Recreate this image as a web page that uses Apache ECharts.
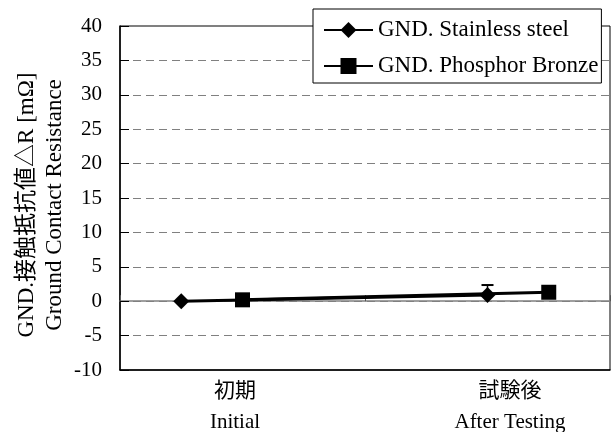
<!DOCTYPE html>
<html><head><meta charset="utf-8">
<script src="https://cdn.jsdelivr.net/npm/echarts@6/dist/echarts.min.js"></script>
<style>html,body{margin:0;padding:0;background:#fff}#c{width:614px;height:432px}</style>
</head><body><div id="c"></div>
<script>
const categories = ['初期\nInitial', '試験後\nAfter Testing'];
const yTicks = {min: -10, max: 40, interval: 5};
const stainlessX = [0.5, 3.0];
const stainlessY = [0.0, 0.9];
const stainlessErr = [0.0, 1.45];
const bronzeX = [1.0, 3.5];
const bronzeY = [0.2, 1.3];
const bronzeErr = [0.0, 0.9];

const FONT = '"Liberation Serif", "Times New Roman", "Noto Sans CJK JP", serif';
const chart = echarts.init(document.getElementById('c'));

function pts(xs, ys) { return xs.map((x, i) => [x, ys[i]]); }
function errPts(xs, ys, es) { return xs.map((x, i) => [x, ys[i], ys[i] + es[i]]); }

function errRender(params, api) {
  const x = api.value(0), y0 = api.value(1), y1 = api.value(2);
  if (y1 <= y0) return null;
  const a = api.coord([x, y0]), b = api.coord([x, y1]);
  return {
    type: 'group',
    children: [
      {type: 'line', shape: {x1: a[0], y1: a[1], x2: b[0], y2: b[1]}, style: {stroke: '#000', lineWidth: 1.5}},
      {type: 'line', shape: {x1: b[0] - 6, y1: b[1], x2: b[0] + 6, y2: b[1]}, style: {stroke: '#000', lineWidth: 2}}
    ]
  };
}

chart.setOption({
  animation: false,
  backgroundColor: '#fff',
  textStyle: {fontFamily: FONT},
  grid: {left: 120, right: 4, top: 26, bottom: 62, containLabel: false, outerBoundsMode: 'none',
         show: true, borderColor: '#000', borderWidth: 1, backgroundColor: 'transparent'},
  legend: {
    orient: 'vertical', left: 313, top: 9,
    backgroundColor: '#fff', borderColor: '#000', borderWidth: 1,
    padding: [9, 3, 5, 10], itemGap: 12, itemWidth: 49, itemHeight: 20,
    textStyle: {fontFamily: FONT, fontSize: 23, lineHeight: 24, color: '#000'},
    data: ['GND. Stainless steel', 'GND. Phosphor Bronze']
  },
  xAxis: [
    {
      type: 'value', min: 0, max: 4, interval: 2, position: 'bottom',
      axisLine: {show: true, onZero: true, lineStyle: {color: '#808080', width: 1.5}},
      axisTick: {show: true, inside: true, length: 6, lineStyle: {color: '#555', width: 1}},
      axisLabel: {show: false}, splitLine: {show: false}
    },
    {
      type: 'category', position: 'bottom', boundaryGap: true,
      data: [
        {value: categories[0], textStyle: {padding: [0, 15, 0, 0]}},
        {value: categories[1], textStyle: {padding: [0, 0, 0, 45]}}
      ],
      axisLine: {show: true, onZero: false, lineStyle: {color: '#000', width: 1.5}},
      axisTick: {show: false},
      axisLabel: {fontFamily: FONT, fontSize: 21, lineHeight: 31, color: '#000', margin: 6}
    }
  ],
  yAxis: {
    type: 'value', min: yTicks.min, max: yTicks.max, interval: yTicks.interval,
    name: 'GND.接触抵抗値△R [mΩ]\nGround Contact Resistance',
    nameLocation: 'middle', nameRotate: 90, nameGap: 51, nameMoveOverlap: false,
    nameTextStyle: {fontFamily: FONT, fontSize: 23, lineHeight: 28, color: '#000', padding: [0, 14, 0, 0]},
    axisLine: {show: true, lineStyle: {color: '#000', width: 1.5}},
    axisTick: {show: true, inside: true, length: 9, lineStyle: {color: '#000', width: 1}},
    axisLabel: {fontFamily: FONT, fontSize: 21, color: '#000', margin: 18},
    splitLine: {show: true, lineStyle: {color: '#808080', type: [8, 5], width: 1}}
  },
  series: [
    {
      name: 'GND. Stainless steel', type: 'line', xAxisIndex: 0,
      data: pts(stainlessX, stainlessY),
      symbol: 'diamond', symbolSize: [16, 16],
      lineStyle: {color: '#000', width: 3}, itemStyle: {color: '#000'}, z: 3
    },
    {
      name: 'GND. Phosphor Bronze', type: 'line', xAxisIndex: 0,
      data: pts(bronzeX, bronzeY),
      symbol: 'rect', symbolSize: [15, 15],
      lineStyle: {color: '#000', width: 3}, itemStyle: {color: '#000'}, z: 3
    },
    {
      type: 'custom', xAxisIndex: 0, renderItem: errRender, z: 2,
      data: errPts(stainlessX, stainlessY, stainlessErr)
    },
    {
      type: 'custom', xAxisIndex: 0, renderItem: errRender, z: 2,
      data: errPts(bronzeX, bronzeY, bronzeErr)
    }
  ]
});
</script></body></html>
